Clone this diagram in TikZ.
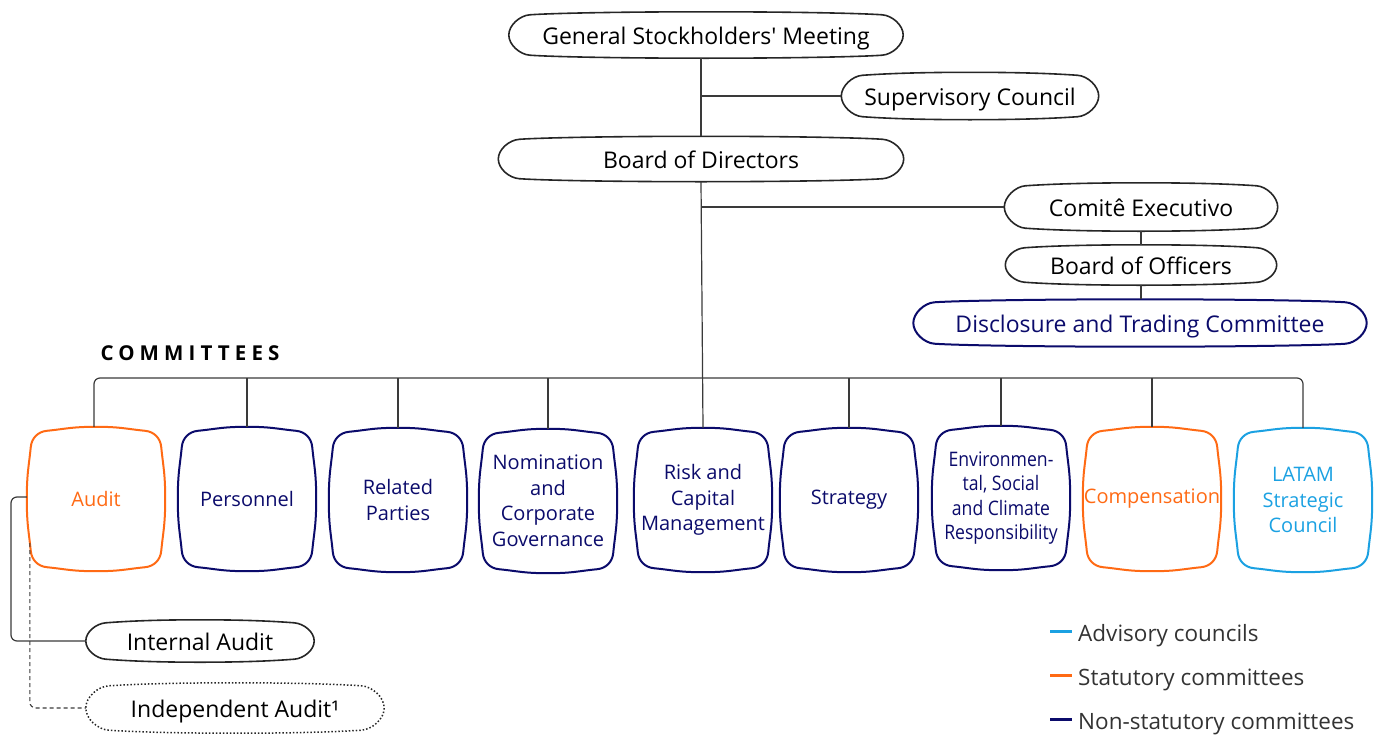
\documentclass[tikz,border=0pt]{standalone}
\usepackage{fontspec}
\setmainfont{Open Sans}[Ligatures=TeXOff]
\usetikzlibrary{calc}
\definecolor{navy}{HTML}{0B0B6B}
\definecolor{sorange}{HTML}{FF6A14}
\definecolor{sblue}{HTML}{1BA1E2}
\definecolor{lineg}{HTML}{3A3A3A}
\definecolor{legtext}{HTML}{333333}

% squircle outline around a node: #1 node, #2 style, #3 corner (pt), #4 bulge (pt)
\newcommand\sqbox[4]{%
\pgfmathsetmacro\rr{#3}\pgfmathsetmacro\bb{#4}%
\pgfmathsetmacro\kk{0.55*(#3-#4)}\pgfmathsetmacro\qq{0.5*#4/#3}%
\draw[#2]
 (#1.north) .. controls ($(#1.north)!0.5!(#1.north east)+({-0.5*\rr pt},0pt)$)
   and ([xshift=-2*\rr pt, yshift=-0.5*\bb pt]#1.north east)
 .. ([xshift=-\rr pt,yshift=-\bb pt]#1.north east)
 .. controls ([xshift=-\rr pt+\kk pt, yshift=-\bb pt-\kk pt*\qq]#1.north east)
   and ([xshift=-\bb pt-\kk pt*\qq, yshift=-\rr pt+\kk pt]#1.north east)
 .. ([xshift=-\bb pt, yshift=-\rr pt]#1.north east)
 .. controls ([xshift=-0.5*\bb pt, yshift=-2*\rr pt]#1.north east)
   and ($(#1.east)!0.5!(#1.north east)+(0pt,{-0.5*\rr pt})$)
 .. (#1.east)
 .. controls ($(#1.east)!0.5!(#1.south east)+(0pt,{0.5*\rr pt})$)
   and ([xshift=-0.5*\bb pt, yshift=2*\rr pt]#1.south east)
 .. ([xshift=-\bb pt, yshift=\rr pt]#1.south east)
 .. controls ([xshift=-\bb pt-\kk pt*\qq, yshift=\rr pt-\kk pt]#1.south east)
   and ([xshift=-\rr pt+\kk pt, yshift=\bb pt+\kk pt*\qq]#1.south east)
 .. ([xshift=-\rr pt, yshift=\bb pt]#1.south east)
 .. controls ([xshift=-2*\rr pt, yshift=0.5*\bb pt]#1.south east)
   and ($(#1.south)!0.5!(#1.south east)+({-0.5*\rr pt},0pt)$)
 .. (#1.south)
 .. controls ($(#1.south)!0.5!(#1.south west)+({0.5*\rr pt},0pt)$)
   and ([xshift=2*\rr pt, yshift=0.5*\bb pt]#1.south west)
 .. ([xshift=\rr pt,yshift=\bb pt]#1.south west)
 .. controls ([xshift=\rr pt-\kk pt, yshift=\bb pt+\kk pt*\qq]#1.south west)
   and ([xshift=\bb pt+\kk pt*\qq, yshift=\rr pt-\kk pt]#1.south west)
 .. ([xshift=\bb pt, yshift=\rr pt]#1.south west)
 .. controls ([xshift=0.5*\bb pt, yshift=2*\rr pt]#1.south west)
   and ($(#1.west)!0.5!(#1.south west)+(0pt,{0.5*\rr pt})$)
 .. (#1.west)
 .. controls ($(#1.west)!0.5!(#1.north west)+(0pt,{-0.5*\rr pt})$)
   and ([xshift=0.5*\bb pt, yshift=-2*\rr pt]#1.north west)
 .. ([xshift=\bb pt, yshift=-\rr pt]#1.north west)
 .. controls ([xshift=\bb pt+\kk pt*\qq, yshift=-\rr pt+\kk pt]#1.north west)
   and ([xshift=\rr pt-\kk pt, yshift=-\bb pt-\kk pt*\qq]#1.north west)
 .. ([xshift=\rr pt, yshift=-\bb pt]#1.north west)
 .. controls ([xshift=2*\rr pt, yshift=-0.5*\bb pt]#1.north west)
   and ($(#1.north)!0.5!(#1.north west)+({0.5*\rr pt},0pt)$)
 .. cycle;
}

% pill outline: #1 node, #2 style, #3 end length (pt), #4 bulge (pt)
\newcommand\pillbox[4]{%
\pgfmathsetmacro\rr{#3}\pgfmathsetmacro\bb{#4}%
\pgfmathsetmacro\kk{0.55*(#3-#4)}\pgfmathsetmacro\qq{0.5*#4/#3}%
\draw[#2]
 (#1.north) .. controls ($(#1.north)!0.5!(#1.north east)+({-0.5*\rr pt},0pt)$)
   and ([xshift=-2*\rr pt, yshift=-0.5*\bb pt]#1.north east)
 .. ([xshift=-\rr pt,yshift=-\bb pt]#1.north east)
 .. controls ([xshift=-\rr pt+\kk pt, yshift=-\bb pt-\kk pt*\qq]#1.north east)
   and ([yshift=\kk pt]#1.east)
 .. (#1.east)
 .. controls ([yshift=-\kk pt]#1.east)
   and ([xshift=-\rr pt+\kk pt, yshift=\bb pt+\kk pt*\qq]#1.south east)
 .. ([xshift=-\rr pt, yshift=\bb pt]#1.south east)
 .. controls ([xshift=-2*\rr pt, yshift=0.5*\bb pt]#1.south east)
   and ($(#1.south)!0.5!(#1.south east)+({-0.5*\rr pt},0pt)$)
 .. (#1.south)
 .. controls ($(#1.south)!0.5!(#1.south west)+({0.5*\rr pt},0pt)$)
   and ([xshift=2*\rr pt, yshift=0.5*\bb pt]#1.south west)
 .. ([xshift=\rr pt,yshift=\bb pt]#1.south west)
 .. controls ([xshift=\rr pt-\kk pt, yshift=\bb pt+\kk pt*\qq]#1.south west)
   and ([yshift=-\kk pt]#1.west)
 .. (#1.west)
 .. controls ([yshift=\kk pt]#1.west)
   and ([xshift=\rr pt-\kk pt, yshift=-\bb pt-\kk pt*\qq]#1.north west)
 .. ([xshift=\rr pt, yshift=-\bb pt]#1.north west)
 .. controls ([xshift=2*\rr pt, yshift=-0.5*\bb pt]#1.north west)
   and ($(#1.north)!0.5!(#1.north west)+({0.5*\rr pt},0pt)$)
 .. cycle;
}

\tikzset{
  pill/.style={inner sep=0pt, minimum height=46pt, text=black,
    text height=18pt, text depth=0pt,
    font=\fontsize{23}{27}\selectfont},
  comm/.style={inner sep=0pt, minimum width=138pt, minimum height=144pt,
    align=center, text=navy, font=\fontsize{20}{25.5}\selectfont},
  conn/.style={draw=lineg, line width=1.2pt},
  pillline/.style={draw=black!85, line width=1.6pt},
  navyline/.style={draw=navy, line width=2pt},
  orangeline/.style={draw=sorange, line width=2pt},
  blueline/.style={draw=sblue, line width=2pt},
  legend/.style={anchor=west, inner sep=0pt, text=legtext,
    font=\fontsize{22.5}{26}\selectfont},
}

\begin{document}
\begin{tikzpicture}[x=1pt, y=-1pt]
\useasboundingbox (0,0) rectangle (1381,736);

% top nodes
\node[pill, minimum width=394pt] (gsm) at (706,35) {General Stockholders' Meeting};
\node[pill, minimum width=257pt, minimum height=47pt] (sup) at (970,96) {Supervisory Council};
\node[pill, minimum width=405pt, minimum height=45pt] (bod) at (701,159) {Board of Directors};
\node[pill, minimum width=273pt, minimum height=48pt] (ce) at (1141,207) {Comitê Executivo};
\node[pill, minimum width=271pt, minimum height=40pt] (bo) at (1141,265) {Board of Officers};
\node[pill, minimum width=453pt, minimum height=47pt, text=navy] (dtc) at (1140,323) {Disclosure and Trading Committee};

\pillbox{gsm}{pillline}{21}{3}
\pillbox{sup}{pillline}{21}{3}
\pillbox{bod}{pillline}{21}{3}
\pillbox{ce}{pillline}{21}{3}
\pillbox{bo}{pillline}{19}{3}
\pillbox{dtc}{navyline}{21}{3}

% committees title
\node[inner sep=0pt, font=\fontsize{20.5}{24}\selectfont\bfseries\addfontfeature{LetterSpace=25}] (ttl) at (190,353) {COMMITTEES};

% committee boxes
\node[comm, text=sorange] (audit) at (96,499) {Audit};
\node[comm] (pers) at (247,499) {Personnel};
\node[comm] (rp) at (398,500) {Related\\Parties};
\node[comm] (nom) at (548,501) {Nomination\\and\\Corporate\\Governance};
\node[comm] (risk) at (703,500) {Risk and\\Capital\\Management};
\node[comm] (strat) at (849,500) {Strategy};
\node[comm, font=\fontsize{20}{24.5}\selectfont] (env) at (1001,498) {\scalebox{0.88}[1]{Environmen-}\\\scalebox{0.88}[1]{tal, Social}\\\scalebox{0.88}[1]{and Climate}\\\scalebox{0.88}[1]{Responsibility}};
\node[comm, text=sorange] (comp) at (1152,499) {Compensation};
\node[comm, text=sblue] (latam) at (1303,500) {LATAM\\Strategic\\Council};

\sqbox{audit}{orangeline}{20}{4}
\sqbox{pers}{navyline}{20}{4}
\sqbox{rp}{navyline}{20}{4}
\sqbox{nom}{navyline}{20}{4}
\sqbox{risk}{navyline}{20}{4}
\sqbox{strat}{navyline}{20}{4}
\sqbox{env}{navyline}{20}{4}
\sqbox{comp}{orangeline}{20}{4}
\sqbox{latam}{blueline}{20}{4}

% audit subordinates
\node[pill, minimum width=228pt, minimum height=42pt] (ia) at (200,641) {Internal Audit};
\node[pill, minimum width=298pt, minimum height=50pt] (indep) at (235,708) {Independent Audit¹};
\pillbox{ia}{pillline}{20}{3}
\pillbox{indep}{draw=black!85, line width=1.5pt, dotted}{23}{3}

% connectors
\coordinate (bus) at (702,378);
\draw[conn] (bod.north) -- (bod.north |- gsm.south);
\draw[conn] (bod.north |- sup.west) -- (sup.west);
\draw[conn] (bod.south |- ce.west) -- (ce.west);
\draw[conn] (ce.south) -- (bo.north);
\draw[conn] (bo.south) -- (bo.south |- dtc.north);
\draw[conn] (bod.south) -- (risk.north);
\draw[conn, rounded corners=6pt] ([xshift=-2pt]audit.north) -- ([xshift=-2pt]audit.north |- bus) -- (latam.north |- bus) -- (latam.north);
\foreach \n in {pers, rp, nom, strat, env, comp}
  \draw[conn] (\n.north) -- (\n.north |- bus);

\coordinate (al) at (11,497);
\draw[conn, rounded corners=6pt] (audit.west |- al) -- (al) |- (ia.west);
\coordinate (ad) at ($(audit.south west)+(3,-28)$);
\draw[draw=lineg, line width=1.1pt, dash pattern=on 4pt off 3pt, rounded corners=6pt] (ad) |- (indep.west);

% legend
\coordinate (l1) at (1050,631);
\coordinate (l2) at (1050,675);
\coordinate (l3) at (1050,719);
\draw[sblue, line width=3pt] (l1) -- ++(22,0);
\draw[sorange, line width=3pt] (l2) -- ++(22,0);
\draw[navy, line width=3pt] (l3) -- ++(22,0);
\node[legend] (t1) at (1078,636) {Advisory councils};
\node[legend] (t2) at (1078,680) {Statutory committees};
\node[legend] (t3) at (1078,724) {Non-statutory committees};
\end{tikzpicture}
\end{document}
